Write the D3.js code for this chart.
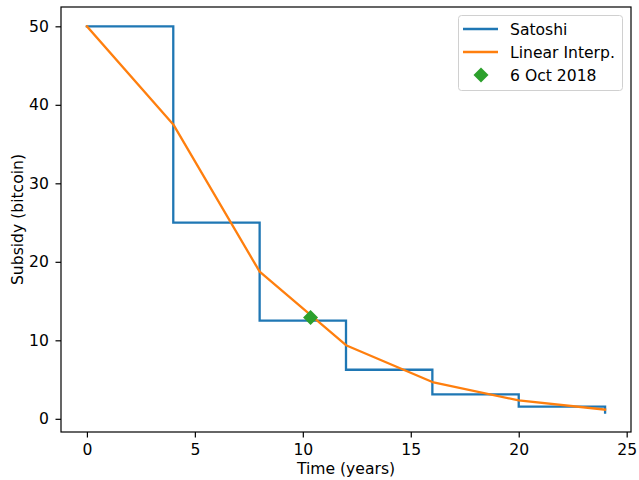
<!DOCTYPE html>
<html><head><meta charset="utf-8">
<script src="https://cdn.jsdelivr.net/npm/d3@7"></script>
<style>body{margin:0;background:#fff}svg{display:block}text{font-family:"DejaVu Sans",sans-serif}</style>
</head><body>
<script>
const halvingYears = [0, 4, 8, 12, 16, 20, 24];
const satoshiSubsidy = [50, 25, 12.5, 6.25, 3.125, 1.5625, 0.78125];
const interpSubsidy = [50, 37.5, 18.75, 9.375, 4.6875, 2.34375, 1.171875];
const markerPoint = [10.36, 12.9];
const xTicks = [0, 5, 10, 15, 20, 25];
const yTicks = [0, 10, 20, 30, 40, 50];
const legendLabels = ["Satoshi", "Linear Interp.", "6 Oct 2018"];
const colors = ["#1f77b4", "#ff7f0e", "#2ca02c"];

const W = 639, H = 480;
const m = {l: 61, r: 631, t: 7, b: 432};
const svg = d3.select("body").append("svg").attr("width", W).attr("height", H);
const x = d3.scaleLinear().domain([-1.2, 25.2]).range([m.l, m.r]);
const y = d3.scaleLinear().domain([0.78125 - 0.05*(50-0.78125), 50 + 0.05*(50-0.78125)]).range([m.b, m.t]);

const fs = "15.6px";
const xAxis = svg.append("g").attr("transform", `translate(0,${m.b})`)
  .call(d3.axisBottom(x).tickValues(xTicks).tickSize(5.5).tickPadding(6.3).tickFormat(d3.format("d")));
const yAxis = svg.append("g").attr("transform", `translate(${m.l},0)`)
  .call(d3.axisLeft(y).tickValues(yTicks).tickSize(5.5).tickPadding(6.6).tickFormat(d3.format("d")));
[xAxis, yAxis].forEach(g => {
  g.select(".domain").remove();
  g.selectAll("line").attr("stroke", "#000").attr("stroke-width", 1.2);
  g.selectAll("text").attr("font-size", fs).attr("fill", "#000").attr("font-family", "DejaVu Sans");
});

const clip = svg.append("defs").append("clipPath").attr("id", "c")
  .append("rect").attr("x", m.l).attr("y", m.t).attr("width", m.r - m.l).attr("height", m.b - m.t);
const plot = svg.append("g").attr("clip-path", "url(#c)");

const sat = halvingYears.map((d, i) => [d, satoshiSubsidy[i]]);
const lin = halvingYears.map((d, i) => [d, interpSubsidy[i]]);
plot.append("path").attr("d", d3.line().x(d => x(d[0])).y(d => y(d[1])).curve(d3.curveStepAfter)(sat))
  .attr("fill", "none").attr("stroke", colors[0]).attr("stroke-width", 2.3).attr("stroke-linejoin", "miter").attr("stroke-linecap", "square");
plot.append("path").attr("d", d3.line().x(d => x(d[0])).y(d => y(d[1]))(lin))
  .attr("fill", "none").attr("stroke", colors[1]).attr("stroke-width", 2.3).attr("stroke-linejoin", "round").attr("stroke-linecap", "square");
const dsz = 7.5;
const diamond = (cx, cy) => `M${cx},${cy-dsz}L${cx+dsz},${cy}L${cx},${cy+dsz}L${cx-dsz},${cy}Z`;
plot.append("path").attr("d", diamond(x(markerPoint[0]), y(markerPoint[1]))).attr("fill", colors[2]);

svg.append("rect").attr("x", m.l).attr("y", m.t).attr("width", m.r - m.l).attr("height", m.b - m.t)
  .attr("fill", "none").attr("stroke", "#000").attr("stroke-width", 1.2);

// legend
const lg = svg.append("g");
lg.append("rect").attr("x", 458.5).attr("y", 15.5).attr("width", 164).attr("height", 75).attr("rx", 3)
  .attr("fill", "#fff").attr("fill-opacity", 0.8).attr("stroke", "#d0d0d0").attr("stroke-width", 1);
const ly = [29, 52, 75];
legendLabels.forEach((lab, i) => {
  if (i < 2) {
    lg.append("line").attr("x1", 463).attr("x2", 498).attr("y1", ly[i]).attr("y2", ly[i])
      .attr("stroke", colors[i]).attr("stroke-width", 2.3);
  } else {
    lg.append("path").attr("d", diamond(481, ly[i])).attr("fill", colors[2]);
  }
  lg.append("text").attr("x", 510).attr("y", ly[i]).attr("dy", "0.36em").attr("font-size", fs).text(lab);
});

svg.append("text").attr("x", (m.l + m.r) / 2).attr("y", 473.5).attr("text-anchor", "middle").attr("font-size", fs).text("Time (years)");
svg.append("text").attr("transform", `translate(22.5,${(m.t + m.b) / 2}) rotate(-90)`).attr("text-anchor", "middle").attr("font-size", fs).text("Subsidy (bitcoin)");
</script>
</body></html>
